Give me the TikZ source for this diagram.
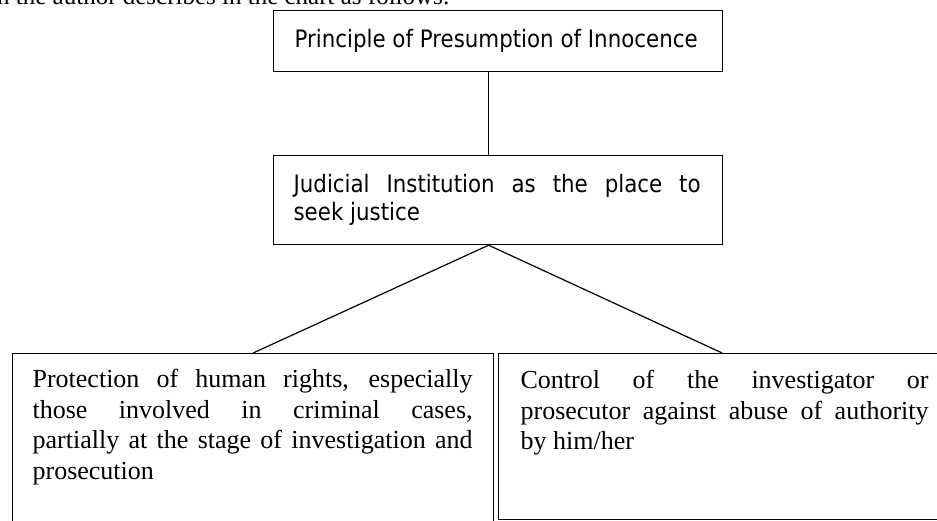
\documentclass[tikz,border=0pt]{standalone}
\usepackage{fontspec}
\setmainfont{Liberation Serif}
\newfontfamily\boxsans[FakeStretch=0.89]{DejaVu Sans}
\begin{document}
\begin{tikzpicture}[x=1pt,y=-1pt,
  boxnode/.style={draw, line width=1.2pt, inner sep=0pt, anchor=north west, rectangle},
  link/.style={line width=1.2pt},
  sanstext/.style={font=\boxsans\fontsize{24}{28}\selectfont},
  serftext/.style={font=\fontsize{26}{30.5}\selectfont}]
\useasboundingbox (0,0) rectangle (937,521);
\begin{scope}
\clip (0,0) rectangle (937,521);
\node[anchor=base west, inner sep=0pt, font=\fontsize{25}{30}\selectfont] (intro) at (-3,5) {n the author describes in the chart as follows:};
\node[boxnode, sanstext] (top) at (273,10)
  {\hspace*{21pt}\parbox[t][61pt][t]{407pt}{\hyphenpenalty=10000\rule{0pt}{37pt}Principle of Presumption of Innocence}\hspace*{21pt}};
\node[boxnode, sanstext] (mid) at (273,155)
  {\hspace*{20pt}\parbox[t][89pt][t]{407pt}{\hyphenpenalty=10000\rule{0pt}{37pt}Judicial Institution as the place to\linebreak seek justice}\hspace*{22pt}};
\node[boxnode, serftext] (left) at (12,353)
  {\hspace*{20pt}\parbox[t][177pt][t]{440pt}{\hyphenpenalty=10000\rule{0pt}{34pt}Protection of human rights, especially\linebreak those involved in criminal cases,\linebreak partially at the stage of investigation and\linebreak prosecution}\hspace*{21pt}};
\node[boxnode, serftext] (right) at (498,353)
  {\hspace*{22pt}\parbox[t][166pt][t]{408pt}{\hyphenpenalty=10000\rule{0pt}{35pt}Control of the investigator or\linebreak prosecutor against abuse of authority\linebreak by him/her}\hspace*{17pt}};
\coordinate (apex) at ([xshift=-9.5pt]mid.south);
\draw[link] (top.south -| apex) -- (mid.north -| apex);
\draw[link] (apex) -- (left.north);
\draw[link] (apex) -- (right.north);
\end{scope}
\end{tikzpicture}
\end{document}
